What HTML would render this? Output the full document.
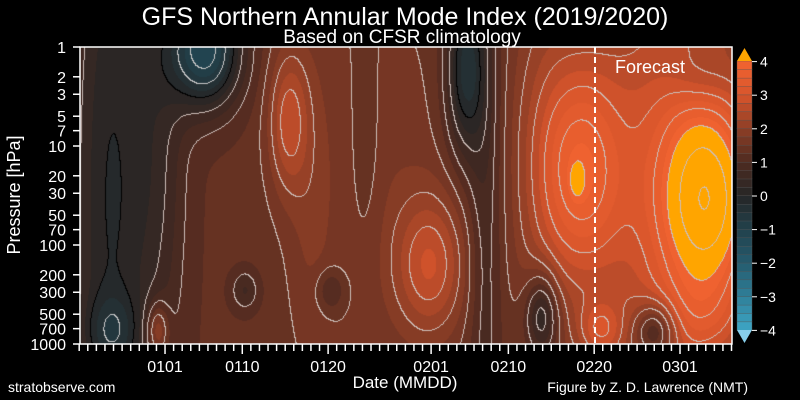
<!DOCTYPE html>
<html><head><meta charset="utf-8"><style>
html,body{margin:0;padding:0;background:#000;width:800px;height:400px;overflow:hidden}
#wrap{position:relative;width:800px;height:400px;font-family:"Liberation Sans",sans-serif;color:#fff}
canvas{position:absolute;left:80px;top:47px}
svg{position:absolute;left:0;top:0}
</style></head><body><div id="wrap">
<canvas id="c" width="652" height="297"></canvas>
<svg id="s" width="800" height="400" xmlns="http://www.w3.org/2000/svg" font-family="Liberation Sans, sans-serif" fill="#fff">
<text x="405" y="25" font-size="25" text-anchor="middle">GFS Northern Annular Mode Index (2019/2020)</text>
<text x="402" y="43" font-size="19" text-anchor="middle">Based on CFSR climatology</text>
<text x="8" y="392" font-size="14">stratobserve.com</text>
<text x="748" y="392" font-size="14" text-anchor="end">Figure by Z. D. Lawrence (NMT)</text>
<text x="405" y="388" font-size="17" text-anchor="middle">Date (MMDD)</text>
<text transform="translate(20,195) rotate(-90)" font-size="18" text-anchor="middle">Pressure [hPa]</text>
<line x1="595" y1="47" x2="595" y2="344" stroke="#fff" stroke-width="2" stroke-dasharray="6,4"/>
<text x="615" y="73" font-size="18">Forecast</text>
<rect x="80" y="47" width="652" height="297" fill="none" stroke="#fff" stroke-width="1.5"/>
<g id="g"></g>
</svg>
</div>
<script>
var blobs=[
[110,200,30,300,-1.3],[205,50,25,40,-2.5],[112,330,18,25,-0.7],[288,120,14,50,1.2],
[157,330,8,20,1.2],[430,265,25,50,1.3],[370,180,60,150,0.4],[465,70,14,60,-1.7],
[485,200,12,200,-0.6],[542,315,12,30,-1.5],[580,170,30,80,1.9],[577,180,5,12,0.6],
[670,170,60,200,1.5],[710,200,35,75,2.5],[655,330,15,20,-1.6],[700,75,25,25,-0.5],
[600,330,15,20,1.0],[245,290,10,15,-0.6],[330,290,10,15,-0.6],[540,150,25,150,0.6],
[160,150,20,150,-0.6],[365,150,12,80,-0.3],[310,200,15,120,0.3],[700,320,40,30,0.5]];
function f(x,y){var v=1.3;for(var i=0;i<blobs.length;i++){var b=blobs[i];var dx=(x-b[0])/b[2],dy=(y-b[1])/b[3];v+=b[4]*Math.exp(-0.5*(dx*dx+dy*dy));}return v;}
var stops=[[-4,[62,166,198]],[-3,[47,128,153]],[-2,[37,91,110]],[-1,[33,65,76]],[0,[38,38,38]],[1,[78,42,32]],[2,[142,62,38]],[3,[216,85,44]],[4,[242,100,48]]];
function col(v){if(v>=4)return[255,165,0];if(v<-4)return[135,206,235];
var q=Math.floor(v*4)/4+0.125;for(var i=0;i<stops.length-1;i++){if(q<=stops[i+1][0]){var a=stops[i],b=stops[i+1],t=(q-a[0])/(b[0]-a[0]);return[a[1][0]+(b[1][0]-a[1][0])*t,a[1][1]+(b[1][1]-a[1][1])*t,a[1][2]+(b[1][2]-a[1][2])*t];}}return stops[8][1];}
var c=document.getElementById('c'),ctx=c.getContext('2d'),W=652,H=297,img=ctx.createImageData(W,H);
var F=new Float32Array(W*H);
for(var y=0;y<H;y++)for(var x=0;x<W;x++)F[y*W+x]=f(x+80,y+47);
for(var y=0;y<H;y++)for(var x=0;x<W;x++){var v=F[y*W+x],k=(y*W+x)*4,cc=col(v);
var l=Math.floor(v*2);var line=false;
if(x<W-1&&Math.floor(F[y*W+x+1]*2)!=l)line=true;if(y<H-1&&Math.floor(F[(y+1)*W+x]*2)!=l)line=true;
if(line){if(Math.abs(v)<0.3){cc=[0,0,0];}else if(v<0){cc=[200,200,200];}else cc=[205,190,185];}
img.data[k]=cc[0];img.data[k+1]=cc[1];img.data[k+2]=cc[2];img.data[k+3]=255;}
ctx.putImageData(img,0,0);
var g=document.getElementById('g'),h='';
var ps=[1,2,3,5,7,10,20,30,50,70,100,200,300,500,700,1000];
ps.forEach(function(p){var y=47+99*Math.log10(p);h+='<line x1="73" y1="'+y+'" x2="80" y2="'+y+'" stroke="#fff" stroke-width="1.5"/><text x="66" y="'+(y+6)+'" font-size="16" text-anchor="end">'+p+'</text>';});
var labs={10:'0101',19:'0110',29:'0120',41:'0201',50:'0210',60:'0220',70:'0301'};
for(var k=0;k<77;k++){var x=79.2+8.583*k;if(x>733)break;var L=labs[k]?10:7;
h+='<line x1="'+x+'" y1="344" x2="'+x+'" y2="'+(344+L)+'" stroke="#fff" stroke-width="1.5"/>';
if(labs[k])h+='<text x="'+x+'" y="372" font-size="16" text-anchor="middle">'+labs[k]+'</text>';}
var stepH=269/32;
for(var i=0;i<32;i++){var v=-4+i*0.25+0.01,cc=col(v),y=330-(i+1)*stepH;
h+='<rect x="737" y="'+y+'" width="15" height="'+(stepH+0.3)+'" fill="rgb('+cc.map(Math.round).join(',')+')" stroke="#555" stroke-width="0.4"/>';}
h+='<polygon points="737,61 752,61 744.5,48" fill="#ffa500"/><polygon points="737,330 752,330 744.5,343" fill="#87ceeb"/>';
for(var t=-4;t<=4;t++){var y=196-t*33.6;h+='<line x1="752" y1="'+y+'" x2="757" y2="'+y+'" stroke="#fff"/><text x="760" y="'+(y+5)+'" font-size="14">'+(t<0?'\u2212'+(-t):t)+'</text>';}
g.innerHTML=h;
</script>
</body></html>
